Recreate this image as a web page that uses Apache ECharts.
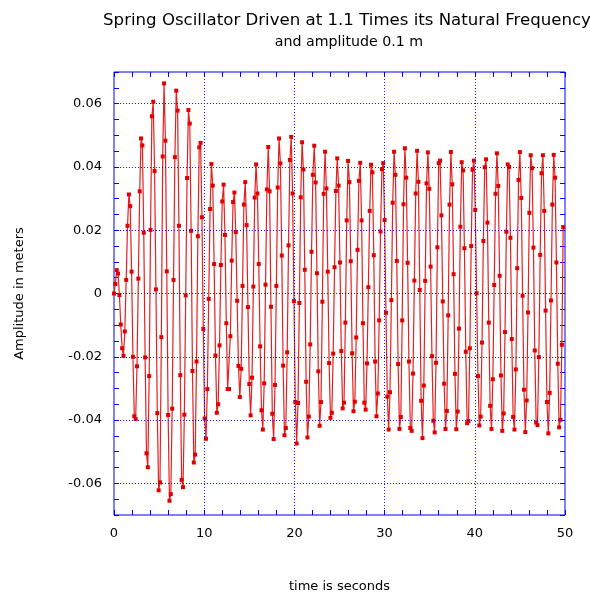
<!DOCTYPE html>
<html><head><meta charset="utf-8">
<script src="https://cdn.jsdelivr.net/npm/echarts@6/dist/echarts.min.js"></script>
<style>html,body{margin:0;padding:0;background:#fff}#c{width:590px;height:598px}</style>
</head><body><div id="c"></div>
<script>
// ---- data ----
const titleText = 'Spring Oscillator Driven at 1.1 Times its Natural Frequency';
const subtitleText = 'and amplitude 0.1 m';
const xAxisTitle = 'time is seconds';
const yAxisTitle = 'Amplitude in meters';
const sampleStep = 0.15; // seconds between logged samples, first sample at t = 0
const amplitude = [
  0, 0.0030, 0.0074, 0.0063, -0.0005, -0.0098, -0.0173, -0.0197, -0.0120, 0.0043,
  0.0214, 0.0313, 0.0276, 0.0069, -0.0200, -0.0388, -0.0397, -0.0230, 0.0047, 0.0323,
  0.0490, 0.0468, 0.0192, -0.0202, -0.0505, -0.0549, -0.0261, 0.0201, 0.0560, 0.0606,
  0.0387, 0.0013, -0.0378, -0.0622, -0.0597, -0.0138, 0.0433, 0.0664, 0.0483, 0.0070,
  -0.0384, -0.0655, -0.0634, -0.0364, 0.0043, 0.0431, 0.0641, 0.0578, 0.0214, -0.0258,
  -0.0589, -0.0612, -0.0383, -0.0006, 0.0365, 0.0580, 0.0537, 0.0198, -0.0245, -0.0534,
  -0.0509, -0.0215, 0.0181, 0.0462, 0.0476, 0.0241, -0.0112, -0.0395, -0.0459, -0.0302,
  -0.0017, 0.0267, 0.0409, 0.0341, 0.0093, -0.0196, -0.0377, -0.0350, -0.0164, 0.0090,
  0.0291, 0.0344, 0.0185, -0.0094, -0.0302, -0.0302, -0.0135, 0.0104, 0.0289, 0.0319,
  0.0194, -0.0023, -0.0229, -0.0327, -0.0238, 0.0024, 0.0281, 0.0352, 0.0216, -0.0043,
  -0.0286, -0.0385, -0.0266, 0.0022, 0.0303, 0.0408, 0.0316, 0.0093, -0.0167, -0.0369,
  -0.0430, -0.0284, 0.0028, 0.0329, 0.0463, 0.0323, -0.0042, -0.0380, -0.0460, -0.0289,
  0.0024, 0.0335, 0.0490, 0.0411, 0.0120, -0.0228, -0.0448, -0.0425, -0.0186, 0.0152,
  0.0422, 0.0495, 0.0316, -0.0024, -0.0343, -0.0474, -0.0346, -0.0030, 0.0304, 0.0478,
  0.0392, 0.0075, -0.0279, -0.0455, -0.0389, -0.0161, 0.0132, 0.0375, 0.0467, 0.0351,
  0.0064, -0.0246, -0.0418, -0.0343, -0.0026, 0.0315, 0.0448, 0.0332, 0.0069, -0.0220,
  -0.0393, -0.0377, -0.0190, 0.0083, 0.0324, 0.0427, 0.0341, 0.0098, -0.0182, -0.0363,
  -0.0345, -0.0092, 0.0231, 0.0419, 0.0352, 0.0102, -0.0189, -0.0372, -0.0342, -0.0139,
  0.0138, 0.0356, 0.0413, 0.0231, -0.0094, -0.0345, -0.0367, -0.0221, 0.0020, 0.0261,
  0.0407, 0.0383, 0.0121, -0.0215, -0.0388, -0.0316, -0.0085, 0.0196, 0.0393, 0.0412,
  0.0232, -0.0061, -0.0326, -0.0430, -0.0312, -0.0021, 0.0287, 0.0448, 0.0375, 0.0103,
  -0.0223, -0.0428, -0.0390, -0.0085, 0.0282, 0.0459, 0.0366, 0.0097, -0.0215, -0.0425,
  -0.0434, -0.0253, 0.0041, 0.0316, 0.0451, 0.0353, 0.0011, -0.0339, -0.0457, -0.0291,
  0.0040, 0.0348, 0.0446, 0.0331, 0.0085, -0.0198, -0.0402, -0.0439, -0.0219, 0.0146,
  0.0412, 0.0420, 0.0247, -0.0025, -0.0285, -0.0428, -0.0371, -0.0069, 0.0281, 0.0447,
  0.0345, 0.0061, -0.0254, -0.0429, -0.0373, -0.0111, 0.0211, 0.0415, 0.0389, 0.0143,
  -0.0184, -0.0410, -0.0403, -0.0173, 0.0150, 0.0391, 0.0420, 0.0264, 0.0001, -0.0261,
  -0.0417, -0.0389, -0.0155, 0.0166, 0.0399, 0.0424, 0.0224, -0.0092, -0.0355, -0.0428,
  -0.0271, 0.0027, 0.0315, 0.0443, 0.0340, 0.0056, -0.0259, -0.0434, -0.0379, -0.0122,
  0.0195, 0.0408, 0.0400, 0.0176, -0.0144, -0.0390, -0.0430, -0.0240, 0.0080, 0.0359,
  0.0447, 0.0302, -0.0007, -0.0304, -0.0438, -0.0338, -0.0060, 0.0255, 0.0437, 0.0396,
  0.0145, -0.0180, -0.0408, -0.0416, -0.0201, 0.0122, 0.0380, 0.0437, 0.0261, -0.0054,
  -0.0343, -0.0442, -0.0314, -0.0022, 0.0281, 0.0438, 0.0366, 0.0098, -0.0222, -0.0423,
  -0.0399, -0.0162, 0.0210
];
const xGridValues = [10, 20, 30, 40];
const yGridValues = [-0.06, -0.04, -0.02, 0, 0.02, 0.04, 0.06];
const xRange = [0, 50];
const yRange = [-0.07, 0.07];

// ---- chart ----
const FONT = 'DejaVu Sans';
const BLUE = '#0000ff';
const seriesData = amplitude.map((v, i) => [+(i * sampleStep).toFixed(2), v]);

function xFmt(v) { return (Math.round(v) % 10 === 0) ? String(Math.round(v)) : ''; }
function yFmt(v) {
  const k = Math.round(v * 1000);
  if (k % 20 !== 0) return '';
  return k === 0 ? '0' : (k / 1000).toFixed(2);
}
const tickStyle = { inside: true, length: 5, lineStyle: { color: BLUE, width: 1 } };
const hiddenLine = { show: false, onZero: false };

const chart = echarts.init(document.getElementById('c'), null, { renderer: 'canvas' });
chart.setOption({
  animation: false,
  backgroundColor: '#fff',
  textStyle: { fontFamily: FONT },
  title: [
    { text: titleText, left: 342, top: 7, textAlign: 'center',
      textStyle: { fontFamily: FONT, fontSize: 16.6, fontWeight: 'normal', color: '#000' } },
    { text: subtitleText, left: 344, top: 30, textAlign: 'center',
      textStyle: { fontFamily: FONT, fontSize: 14.2, fontWeight: 'normal', color: '#000' } }
  ],
  grid: { left: 114, right: 25, top: 72, bottom: 78, show: true, borderColor: BLUE, borderWidth: 1, backgroundColor: 'transparent' },
  xAxis: [
    { type: 'value', min: xRange[0], max: xRange[1], interval: 2, position: 'bottom',
      axisLine: hiddenLine, axisTick: tickStyle, splitLine: { show: false },
      axisLabel: { formatter: xFmt, color: '#000', fontSize: 13, margin: 12, fontFamily: FONT },
      name: xAxisTitle, nameLocation: 'middle', nameGap: 65,
      nameTextStyle: { color: '#000', fontSize: 13, fontFamily: FONT } },
    { type: 'value', min: xRange[0], max: xRange[1], interval: 2, position: 'top',
      axisLine: hiddenLine, axisTick: tickStyle, splitLine: { show: false },
      axisLabel: { show: false } }
  ],
  yAxis: [
    { type: 'value', min: yRange[0], max: yRange[1], interval: 0.005, position: 'left',
      axisLine: hiddenLine, axisTick: tickStyle, splitLine: { show: false },
      axisLabel: { formatter: yFmt, color: '#000', fontSize: 13, margin: 12, fontFamily: FONT },
      name: yAxisTitle, nameLocation: 'middle', nameGap: 88, nameRotate: 90,
      nameTextStyle: { color: '#000', fontSize: 13, fontFamily: FONT } },
    { type: 'value', min: yRange[0], max: yRange[1], interval: 0.005, position: 'right',
      axisLine: hiddenLine, axisTick: tickStyle, splitLine: { show: false },
      axisLabel: { show: false } }
  ],
  series: [
    { type: 'line', name: 'grid', data: [], z: 1, silent: true, symbol: 'none',
      markLine: {
        silent: true, symbol: ['none', 'none'], animation: false,
        label: { show: false },
        lineStyle: { color: BLUE, type: [1, 2], width: 1, opacity: 0.9 },
        emphasis: { disabled: true },
        data: xGridValues.map(v => ({ xAxis: v })).concat(yGridValues.map(v => ({ yAxis: v })))
      } },
    { type: 'line', name: 'amplitude', data: seriesData, z: 3,
      symbol: 'rect', symbolSize: 4, showSymbol: true,
      itemStyle: { color: '#e00000' },
      lineStyle: { color: '#e52020', width: 1.2 },
      emphasis: { disabled: true } }
  ]
});
</script>
</body></html>
